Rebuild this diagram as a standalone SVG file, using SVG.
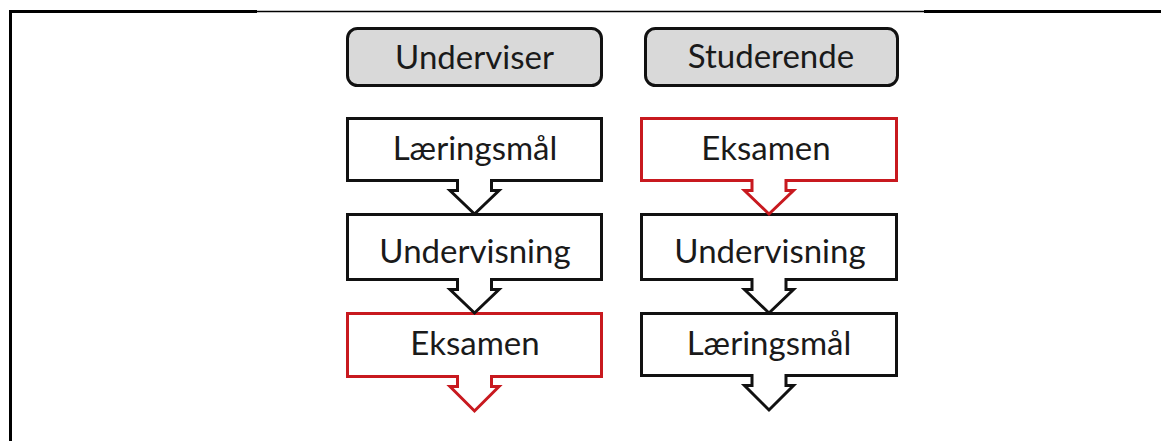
<svg xmlns="http://www.w3.org/2000/svg" width="1161" height="441" viewBox="0 0 1161 441">
  <style>
    .txt { font-family: Lato, "Open Sans", "Liberation Sans", sans-serif; font-size: 33px; fill: #1a1a1a; text-anchor: middle; }
    .hdr { fill: #d9d9d9; stroke: #111; stroke-width: 3; }
    .box { fill: #fff; stroke: #111; stroke-width: 3; stroke-linejoin: miter; }
    .tail { fill: #fff; stroke: #111; stroke-width: 3; stroke-linejoin: miter; }
    .box.red, .tail.red { stroke: #c8191f; }
  </style>
  <rect width="1161" height="441" fill="#fff"/>
  <!-- page frame -->
  <g id="frame" stroke="#000" fill="none">
    <line x1="10.5" y1="11.5" x2="10.5" y2="441" stroke-width="3"/>
    <line x1="9" y1="11.5" x2="257" y2="11.5" stroke-width="3"/>
    <line x1="257" y1="11.5" x2="924" y2="11.5" stroke-width="1.5"/>
    <line x1="924" y1="11.5" x2="1161" y2="11.5" stroke-width="3"/>
  </g>

  <!-- headers -->
  <g id="hdr-underviser">
    <rect class="hdr" x="347.5" y="28.5" width="254" height="57" rx="10"/>
    <text class="txt" x="474.5" y="69">Underviser</text>
  </g>
  <g id="hdr-studerende">
    <rect class="hdr" x="645.5" y="28.5" width="252" height="57" rx="10"/>
    <text class="txt" x="771" y="68">Studerende</text>
  </g>

  <!-- left column -->
  <g id="l-laeringsmaal">
    <rect class="box" x="347.5" y="118.5" width="254" height="62"/>
    <text class="txt" x="475" y="160">Læringsmål</text>
  </g>
  <g id="l-undervisning">
    <rect class="box" x="347.5" y="214.5" width="254" height="65"/>
    <text class="txt" x="475" y="263">Undervisning</text>
  </g>
  <g id="l-eksamen">
    <rect class="box red" x="347.5" y="313.5" width="254" height="63"/>
    <text class="txt" x="475" y="355">Eksamen</text>
  </g>

  <!-- right column -->
  <g id="r-eksamen">
    <rect class="box red" x="641.5" y="118.5" width="255" height="62"/>
    <text class="txt" x="766" y="160">Eksamen</text>
  </g>
  <g id="r-undervisning">
    <rect class="box" x="641.5" y="214.5" width="255" height="65"/>
    <text class="txt" x="770" y="263">Undervisning</text>
  </g>
  <g id="r-laeringsmaal">
    <rect class="box" x="641.5" y="313.5" width="255" height="62"/>
    <text class="txt" x="769" y="355">Læringsmål</text>
  </g>

  <!-- connectors: arrow-callout tails -->
  <g id="connectors">
    <path class="tail" d="M457.5,179 V190.5 H450 L474.5,214 L499,190.5 H491.5 V179"/>
    <path class="tail" d="M457.5,278 V289.5 H450 L474.5,313 L499,289.5 H491.5 V278"/>
    <path class="tail red" d="M457.5,375 V386.5 H450 L474.5,411 L499,386.5 H491.5 V375"/>
    <path class="tail red" d="M752,179 V190.5 H744.5 L769,214 L793.5,190.5 H786 V179"/>
    <path class="tail" d="M752,278 V289.5 H744.5 L769,313 L793.5,289.5 H786 V278"/>
    <path class="tail" d="M752,374 V385.5 H744.5 L769,410 L793.5,385.5 H786 V374"/>
  </g>
</svg>
